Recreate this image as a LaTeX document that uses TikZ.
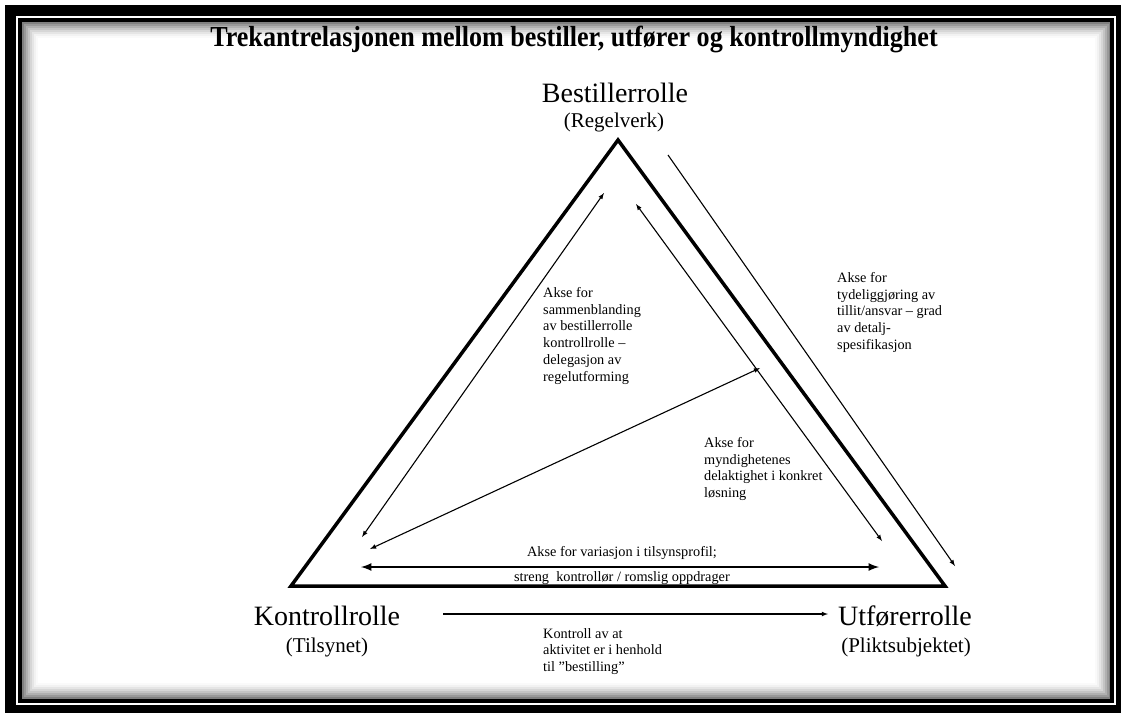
\documentclass[tikz,border=0pt]{standalone}
\usepackage{fontspec}
\setmainfont{Liberation Serif}
\usepackage{graphicx}
\usetikzlibrary{arrows}
\tikzstyle{role}=[font=\fontsize{28}{30}\selectfont, inner sep=0pt, anchor=base]
\tikzstyle{subrole}=[font=\fontsize{21}{23}\selectfont, inner sep=0pt, anchor=base]
\tikzstyle{note}=[font=\fontsize{14.3}{16.8}\selectfont, align=left, inner sep=0pt, anchor=north west]
\tikzstyle{axisline}=[latex-latex, line width=1.1pt]
\tikzset{caption/.style={font=\fontsize{14.3}{17}\selectfont, inner sep=0pt, anchor=base}}

\begin{document}
\begin{tikzpicture}[x=1pt, y=-1pt]
  \useasboundingbox (0,0) rectangle (1121,713);

  % frame with shadow
  \fill[black] (5,5) rectangle (1121,713);
  \fill[white] (16,16) rectangle (1115.5,705);
  \foreach \i/\c in {1/50,2/40,3/31,4/23,5/16,6/10,7/5,8/2}
    \draw[black!\c, line width=2pt] (21+2*\i,21+2*\i) rectangle (1112-2*\i,700-2*\i);
  \draw[line width=3.5pt] (20,20) rectangle (1112,701);

  \node[inner sep=0pt, anchor=base] (title) at (574,46)
    {\fontsize{29}{30}\selectfont\bfseries\scalebox{0.9}[1]{Trekantrelasjonen mellom bestiller, utfører og kontrollmyndighet}};

  % triangle
  \coordinate (apex) at (618,140);
  \coordinate (baseL) at (291,586);
  \coordinate (baseR) at (945,586);
  \draw[line width=3.5pt, line join=miter] (apex) -- (baseR) -- (baseL) -- cycle;

  \node[role] (bestiller) at (615,102) {Bestillerrolle};
  \node[subrole] (regelverk) at (614,127) {(Regelverk)};
  \node[role] (kontroll) at (327,625) {Kontrollrolle};
  \node[subrole] (tilsynet) at (327,652) {(Tilsynet)};
  \node[role] (utforer) at (905,625) {Utførerrolle};
  \node[subrole] (plikt) at (906,652) {(Pliktsubjektet)};

  \node[note] (blanding) at (543,287) {Akse for\\sammenblanding\\av bestillerrolle\\kontrollrolle –\\delegasjon av\\regelutforming};
  \node[note] (tillit) at (837,272) {Akse for\\tydeliggjøring av\\tillit/ansvar – grad\\av detalj-\\spesifikasjon};
  \node[note] (myndighet) at (704,437) {Akse for\\myndighetenes\\delaktighet i konkret\\løsning};
  \node[note] (bestilling) at (543,628) {Kontroll av at\\aktivitet er i henhold\\til "bestilling"};
  \node[caption] (variasjon) at (622,556) {Akse for variasjon i tilsynsprofil;};
  \node[caption] (streng) at (622,581) {streng\ \ kontrollør / romslig oppdrager};

  % axes
  \coordinate (blandLow) at (362,537);
  \coordinate (blandHigh) at (604,193);
  \coordinate (myndHigh) at (636,204);
  \coordinate (myndLow) at (882,541);
  \coordinate (profilLow) at (370,549);
  \coordinate (profilHigh) at (760,368);
  \coordinate (variasjonL) at (361,567);
  \coordinate (variasjonR) at (879,567);
  \coordinate (tillitTop) at (668,155);
  \coordinate (tillitEnd) at (955,566);
  \coordinate (kontrollStart) at (443,614);
  \coordinate (kontrollEnd) at (828,614);

  \foreach \source/\dest in {blandLow/blandHigh, myndHigh/myndLow, profilLow/profilHigh}
    \draw[axisline] (\source) -- (\dest);
  \draw[axisline, line width=2.5pt] (variasjonL) -- (variasjonR);
  \draw[-latex, line width=1.1pt] (tillitTop) -- (tillitEnd);
  \draw[-latex, line width=1.1pt] (kontrollStart) -- (kontrollEnd);

\end{tikzpicture}
\end{document}
